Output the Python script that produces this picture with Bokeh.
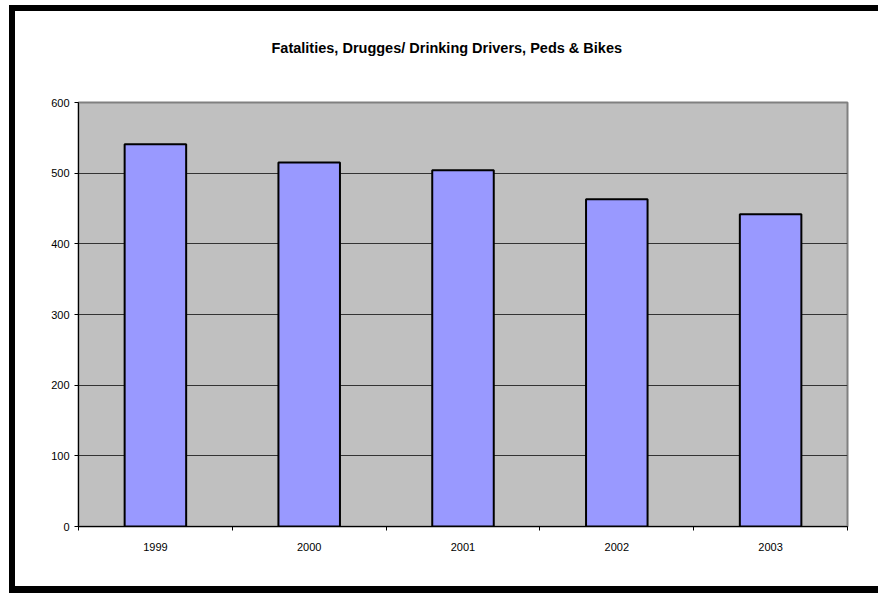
from bokeh.plotting import figure
from bokeh.models import FixedTicker, ColumnDataSource, Range1d, Title
from bokeh.embed import file_html
from bokeh.resources import INLINE

years = ["1999", "2000", "2001", "2002", "2003"]
fatalities = [541, 515, 504, 463, 442]
y_ticks = [0, 100, 200, 300, 400, 500, 600]
title_text = "Fatalities, Drugges/ Drinking Drivers, Peds & Bikes"

xpos = [i + 0.5 for i in range(len(years))]
src = ColumnDataSource(dict(x=xpos, top=fatalities, year=years))

# canvas starts at page (15, 11) because of css margin + border
p = figure(width=869, height=588, output_backend="svg", toolbar_location=None,
           x_range=Range1d(0, len(years)), y_range=Range1d(0, 600),
           min_border_left=63, min_border_right=37, min_border_top=91, min_border_bottom=73)
p.styles = {"margin-left": "9px", "margin-top": "5px", "overflow": "hidden",
            "border-left": "6px solid black", "border-top": "6px solid black",
            "border-bottom": "7px solid black"}

# spacer between the frame and the title
p.add_layout(Title(text=" ", text_font_size="1px", standoff=44), "above")
p.add_layout(Title(text=title_text, align="left", offset=193, standoff=0,
                   text_font="Liberation Sans", text_font_size="14.5px",
                   text_font_style="bold", text_color="black"), "above")

p.background_fill_color = "#C0C0C0"
p.border_fill_color = "white"
p.outline_line_color = "#808080"
p.outline_line_width = 2

p.vbar(x="x", top="top", width=0.4, source=src, fill_color="#9999FF",
       line_color="black", line_width=2)

p.xgrid.visible = False
p.ygrid.grid_line_color = "#333333"
p.ygrid.grid_line_width = 1
p.ygrid.ticker = FixedTicker(ticks=y_ticks)

p.yaxis.ticker = FixedTicker(ticks=y_ticks)
p.yaxis.minor_tick_line_color = None
p.yaxis.major_tick_out = 4
p.yaxis.major_tick_in = 0
p.yaxis.major_label_standoff = 5

p.xaxis.ticker = FixedTicker(ticks=xpos, minor_ticks=list(range(len(years) + 1)))
p.xaxis.major_label_overrides = {x: y for x, y in zip(xpos, years)}
p.xaxis.major_tick_line_color = None
p.xaxis.major_tick_out = 0
p.xaxis.major_tick_in = 0
p.xaxis.minor_tick_out = 4
p.xaxis.minor_tick_in = 0
p.xaxis.minor_tick_line_color = "black"
p.xaxis.major_label_standoff = 12

for ax in (p.xaxis, p.yaxis):
    ax.axis_line_color = "black"
    ax.axis_line_width = 1
    ax.major_label_text_font = "Liberation Sans"
    ax.major_label_text_font_size = "11px"
    ax.major_label_text_color = "black"

open("out.html", "w").write(file_html(p, INLINE))
